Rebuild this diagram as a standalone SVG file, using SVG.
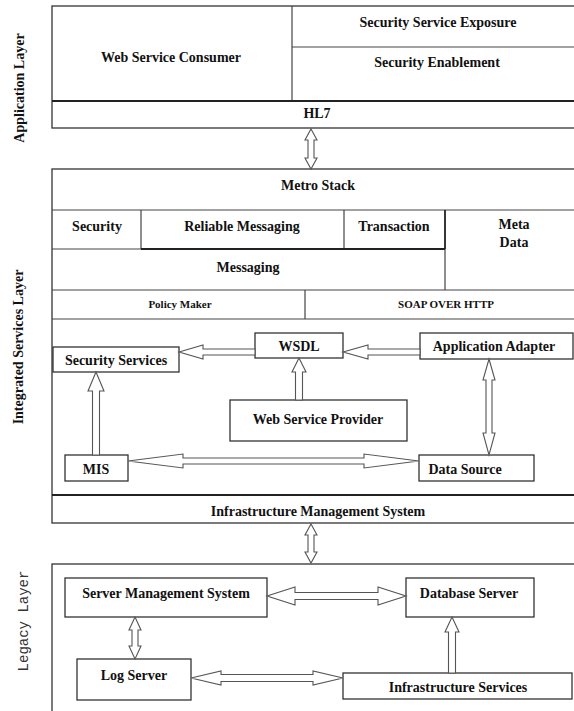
<svg xmlns="http://www.w3.org/2000/svg" width="574" height="711" viewBox="0 0 574 711">
<style>
.bx{fill:#fff;stroke:#333;stroke-width:1.3}
.ln{stroke:#444;stroke-width:1.2;fill:none}
.tk{stroke:#222;stroke-width:1.8;fill:none}
.t{font-family:"Liberation Serif","Times New Roman",serif;font-weight:bold;font-size:14px;fill:#111;text-anchor:middle}
.s{font-size:11px}
.side{font-family:"Liberation Serif","Times New Roman",serif;font-weight:bold;font-size:14px;fill:#111;text-anchor:middle}
.mono{font-family:"Liberation Mono","Courier New",monospace;font-size:14px;fill:#333;text-anchor:middle}
.ar{fill:#fff;stroke:#555;stroke-width:1.1;stroke-linejoin:miter}
</style>
<rect width="574" height="711" fill="#fff"/>

<g id="side-labels">
<text class="side" transform="translate(24,88) rotate(-90)">Application Layer</text>
<text class="side" transform="translate(23,347) rotate(-90)">Integrated  Services Layer</text>
<text class="mono" transform="translate(28,621) rotate(-90)">Legacy Layer</text>
</g>

<g id="application-layer">
<rect class="bx" x="52" y="6" width="540" height="122"/>
<line class="ln" x1="292" y1="6" x2="292" y2="101"/>
<line class="ln" x1="292" y1="47" x2="592" y2="47"/>
<line class="tk" x1="52" y1="101" x2="592" y2="101"/>
</g>
<g id="web-service-consumer"><text class="t" x="171" y="62">Web Service Consumer</text></g>
<g id="security-service-exposure"><text class="t" x="438" y="27">Security Service Exposure</text></g>
<g id="security-enablement"><text class="t" x="437" y="67">Security Enablement</text></g>
<g id="hl7"><text class="t" x="317" y="118">HL7</text></g>

<g id="integrated-services-layer">
<rect class="bx" x="52" y="169" width="540" height="354"/>
<line class="ln" x1="52" y1="210" x2="592" y2="210"/>
<line class="ln" x1="141" y1="210" x2="141" y2="249"/>
<line class="ln" x1="344" y1="210" x2="344" y2="249"/>
<line class="tk" x1="445" y1="210" x2="445" y2="249"/>
<line class="ln" x1="445" y1="249" x2="445" y2="290"/>
<line class="tk" x1="141" y1="249" x2="445" y2="249"/>
<line class="ln" x1="52" y1="249" x2="141" y2="249"/>
<line class="ln" x1="52" y1="290" x2="592" y2="290"/>
<line class="ln" x1="305" y1="290" x2="305" y2="319"/>
<line class="ln" x1="52" y1="319" x2="592" y2="319"/>
<line class="tk" x1="52" y1="495" x2="592" y2="495"/>
</g>
<g id="metro-stack"><text class="t" x="318" y="190">Metro Stack</text></g>
<g id="security"><text class="t" x="97" y="231">Security</text></g>
<g id="reliable-messaging"><text class="t" x="242" y="231">Reliable Messaging</text></g>
<g id="transaction"><text class="t" x="394" y="231">Transaction</text></g>
<g id="meta-data"><text class="t" x="514" y="229">Meta</text><text class="t" x="514" y="247">Data</text></g>
<g id="messaging"><text class="t" x="248" y="272">Messaging</text></g>
<g id="policy-maker"><text class="t s" x="180" y="308">Policy Maker</text></g>
<g id="soap-over-http"><text class="t s" x="446" y="308">SOAP OVER HTTP</text></g>
<g id="security-services"><rect class="bx" x="53" y="347" width="126" height="25"/><text class="t" x="116" y="365">Security Services</text></g>
<g id="wsdl"><rect class="bx" x="255" y="333" width="88" height="25"/><text class="t" x="299" y="351">WSDL</text></g>
<g id="application-adapter"><rect class="bx" x="420" y="333" width="153" height="26"/><text class="t" x="494" y="351">Application Adapter</text></g>
<g id="web-service-provider"><rect class="bx" x="230" y="400" width="177" height="41"/><text class="t" x="318" y="424">Web Service Provider</text></g>
<g id="mis"><rect class="bx" x="65" y="455" width="63" height="26"/><text class="t" x="96" y="474">MIS</text></g>
<g id="data-source"><rect class="bx" x="419" y="455" width="115" height="26"/><text class="t" x="465" y="474">Data Source</text></g>
<g id="infrastructure-management-system"><text class="t" x="318" y="516">Infrastructure Management System</text></g>

<g id="legacy-layer">
<rect class="bx" x="52" y="564" width="540" height="160"/>
</g>
<g id="server-management-system"><rect class="bx" x="65" y="578" width="202" height="39"/><text class="t" x="166" y="598">Server Management System</text></g>
<g id="database-server"><rect class="bx" x="406" y="578" width="128" height="39"/><text class="t" x="469" y="598">Database Server</text></g>
<g id="log-server"><rect class="bx" x="77" y="659" width="114" height="41"/><text class="t" x="134" y="680">Log Server</text></g>
<g id="infrastructure-services"><rect class="bx" x="343" y="673" width="229" height="26"/><text class="t" x="458" y="692">Infrastructure Services</text></g>

<g id="connectors">
<polygon class="ar" points="311,129 317,140 314,140 314,158 317,158 311,169 305,158 308,158 308,140 305,140"/>
<polygon class="ar" points="311,524 317,535 314,535 314,552 317,552 311,563 305,552 308,552 308,535 305,535"/>
<polygon class="ar" points="179,352 203,345 203,349 255,349 255,355 203,355 203,359"/>
<polygon class="ar" points="343,352 368,345 368,349 420,349 420,355 368,355 368,359"/>
<polygon class="ar" points="299,358 306,372 302.5,372 302.5,400 295.5,400 295.5,372 292,372"/>
<polygon class="ar" points="96,372 104,391 99.5,391 99.5,455 92.5,455 92.5,391 88,391"/>
<polygon class="ar" points="128,461 183,454 183,458 364,458 364,454 419,461 364,468 364,464 183,464 183,468"/>
<polygon class="ar" points="489,359 495,380 492,380 492,433 495,433 489,455 483,433 486,433 486,380 483,380"/>
<polygon class="ar" points="267,596 295,587 295,592.5 378,592.5 378,587 406,596 378,605 378,599.5 295,599.5 295,605"/>
<polygon class="ar" points="135,617 141,630 138,630 138,646 141,646 135,659 129,646 132,646 132,630 129,630"/>
<polygon class="ar" points="191,678 221,671 221,674.5 313,674.5 313,671 343,678 313,685 313,681.5 221,681.5 221,685"/>
<polygon class="ar" points="452,617 459,632 455.5,632 455.5,673 448.5,673 448.5,632 445,632"/>
</g>
</svg>
